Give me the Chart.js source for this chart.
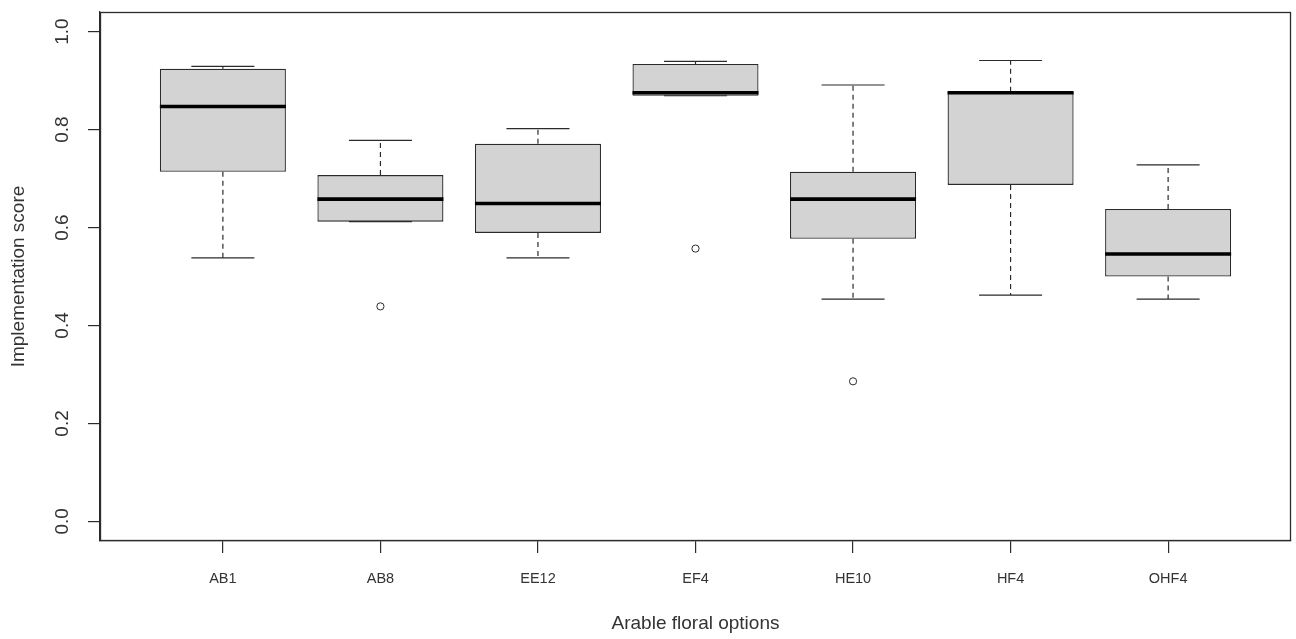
<!DOCTYPE html>
<html>
<head>
<meta charset="utf-8">
<script src="https://cdn.jsdelivr.net/npm/chart.js@4/dist/chart.umd.min.js"></script>
<style>
  html, body { margin: 0; padding: 0; background: #ffffff; }
  #wrap { width: 1296px; height: 639px; position: relative; }
</style>
</head>
<body>
<div id="wrap"><canvas id="c"></canvas></div>
<script>
// ---- data ----
const categories  = ['AB1', 'AB8', 'EE12', 'EF4', 'HE10', 'HF4', 'OHF4'];
const whiskerLow  = [0.538, 0.612, 0.538, 0.869, 0.454, 0.462, 0.454];
const q1          = [0.714, 0.612, 0.589, 0.869, 0.577, 0.687, 0.500];
const median      = [0.847, 0.658, 0.649, 0.875, 0.658, 0.875, 0.546];
const q3          = [0.924, 0.707, 0.771, 0.934, 0.714, 0.877, 0.638];
const whiskerHigh = [0.929, 0.778, 0.802, 0.939, 0.891, 0.941, 0.728];
const outlierCategories = ['AB8', 'EF4', 'HE10'];
const outlierValues     = [0.439, 0.557, 0.286];
const yTicks = [0.0, 0.2, 0.4, 0.6, 0.8, 1.0];

// ---- build library datasets from the arrays ----
const BOX_HALF = 0.4, CAP_HALF = 0.2;
const pos = categories.map((c, i) => i + 1);

const boxData = pos.map((x, i) => ({ x: x, y: [q1[i], q3[i]] }));

const medianData = [];
pos.forEach((x, i) => {
  medianData.push({ x: x - BOX_HALF, y: median[i] }, { x: x + BOX_HALF, y: median[i] }, { x: x + BOX_HALF, y: null });
});

const whiskerData = [];
pos.forEach((x, i) => {
  whiskerData.push({ x: x, y: q3[i] }, { x: x, y: whiskerHigh[i] }, { x: x, y: null });
  whiskerData.push({ x: x, y: q1[i] }, { x: x, y: whiskerLow[i] }, { x: x, y: null });
});

const capData = [];
pos.forEach((x, i) => {
  capData.push({ x: x - CAP_HALF, y: whiskerHigh[i] }, { x: x + CAP_HALF, y: whiskerHigh[i] }, { x: x + CAP_HALF, y: null });
  capData.push({ x: x - CAP_HALF, y: whiskerLow[i] }, { x: x + CAP_HALF, y: whiskerLow[i] }, { x: x + CAP_HALF, y: null });
});

const outlierData = outlierCategories.map((c, i) => ({ x: categories.indexOf(c) + 1, y: outlierValues[i] }));

const INK = '#2b2b2b';
const FONT = "'Liberation Sans', Arial, sans-serif";

const framePlugin = {
  id: 'frame',
  afterDatasetsDraw(chart) {
    const { ctx, chartArea: a } = chart;
    ctx.save();
    ctx.strokeStyle = INK;
    ctx.lineWidth = 1.3;
    ctx.strokeRect(Math.round(a.left) + 0.5, Math.round(a.top) + 0.5,
                   Math.round(a.right - a.left) - 1, Math.round(a.bottom - a.top) - 1);
    ctx.restore();
  }
};

new Chart(document.getElementById('c'), {
  type: 'bar',
  data: {
    datasets: [
      {
        type: 'scatter',
        data: outlierData,
        pointStyle: 'circle',
        pointRadius: 3.6,
        pointBorderWidth: 1,
        pointBorderColor: INK,
        pointBackgroundColor: 'rgba(0,0,0,0)',
        order: 1
      },
      {
        type: 'line',
        data: medianData,
        borderColor: '#000000',
        borderWidth: 3.6,
        borderCapStyle: 'butt',
        pointRadius: 0,
        fill: false,
        tension: 0,
        spanGaps: false,
        order: 2
      },
      {
        type: 'line',
        data: capData,
        borderColor: INK,
        borderWidth: 1.2,
        pointRadius: 0,
        fill: false,
        tension: 0,
        spanGaps: false,
        order: 3
      },
      {
        type: 'line',
        data: whiskerData,
        borderColor: INK,
        borderWidth: 1.2,
        borderDash: [5, 4],
        pointRadius: 0,
        fill: false,
        tension: 0,
        spanGaps: false,
        order: 4
      },
      {
        type: 'bar',
        data: boxData,
        backgroundColor: '#d3d3d3',
        borderColor: INK,
        borderWidth: 1.3,
        borderSkipped: false,
        categoryPercentage: 1.0,
        barPercentage: 0.8,
        order: 5
      }
    ]
  },
  options: {
    responsive: true,
    maintainAspectRatio: false,
    animation: false,
    events: [],
    layout: { padding: { top: 12, right: 2, left: 0, bottom: 0 } },
    plugins: {
      legend: { display: false },
      tooltip: { enabled: false },
      title: { display: false }
    },
    scales: {
      x: {
        type: 'linear',
        min: 0.22,
        max: 7.78,
        offset: false,
        afterFit(s) { s.height = 98; s.paddingLeft = 0; s.paddingRight = 0; },
        afterBuildTicks(s) { s.ticks = pos.map(v => ({ value: v })); },
        grid: { display: true, drawOnChartArea: false, drawTicks: true, tickLength: 12, color: INK, offset: false, lineWidth: 1.2 },
        border: { display: true, color: INK, width: 1.2 },
        ticks: {
          padding: 17,
          color: '#333333',
          font: { family: FONT, size: 14.5 },
          maxRotation: 0,
          minRotation: 0,
          autoSkip: false,
          callback: (v) => categories[Math.round(v) - 1]
        },
        title: {
          display: true,
          text: 'Arable floral options',
          color: '#333333',
          font: { family: FONT, size: 19 },
          padding: { top: 0, bottom: 4 }
        }
      },
      y: {
        type: 'linear',
        min: -0.04,
        max: 1.04,
        afterFit(s) { s.width = 100; s.paddingTop = 0; s.paddingBottom = 0; },
        afterBuildTicks(s) { s.ticks = yTicks.map(v => ({ value: v })); },
        grid: { display: true, drawOnChartArea: false, drawTicks: true, tickLength: 12, color: INK, lineWidth: 1.2 },
        border: { display: true, color: INK, width: 1.2 },
        ticks: {
          padding: 12,
          crossAlign: 'center',
          minRotation: 90,
          maxRotation: 90,
          color: '#333333',
          font: { family: FONT, size: 19 },
          autoSkip: false,
          callback: (v) => Number(v).toFixed(1)
        },
        title: {
          display: true,
          text: 'Implementation score',
          color: '#333333',
          font: { family: FONT, size: 19 },
          padding: { top: 7, bottom: 0 }
        }
      }
    }
  },
  plugins: [framePlugin]
});
</script>
</body>
</html>
